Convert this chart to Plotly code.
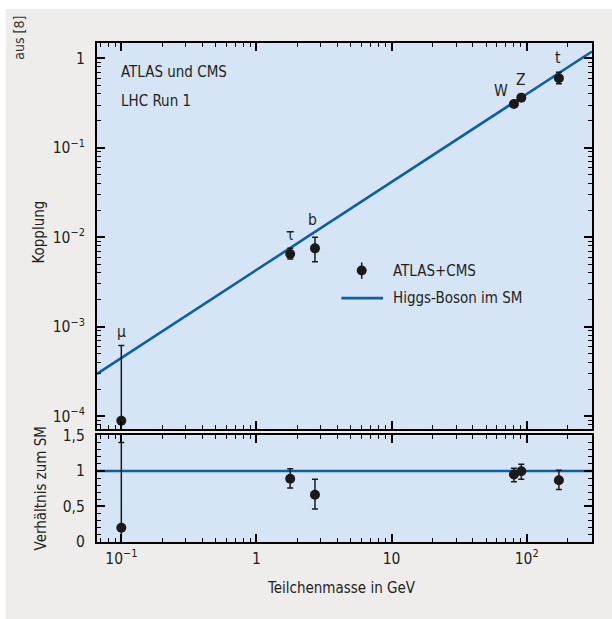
import math
import plotly.graph_objects as go

# ---------------- data ----------------
particles = ["μ", "τ", "b", "W", "Z", "t"]
mass_gev = [0.1, 1.777, 2.71, 80.4, 91.2, 173.0]
coupling = [8.85e-5, 6.5e-3, 7.5e-3, 0.309, 0.363, 0.598]
coupling_err_plus = [5.27e-4, 1.0e-3, 2.5e-3, 0.012, 0.015, 0.10]
coupling_err_minus = [8.0e-5, 0.8e-3, 2.2e-3, 0.012, 0.015, 0.08]
ratio = [0.2, 0.89, 0.665, 0.95, 0.995, 0.87]
ratio_err_plus = [1.2, 0.14, 0.22, 0.09, 0.10, 0.14]
ratio_err_minus = [0.5, 0.13, 0.20, 0.10, 0.11, 0.13]
sm_mass = [0.066, 304.0]
sm_coupling = [2.97e-4, 1.19]
sm_ratio = [1.0, 1.0]
label_dx = [0, 0, -2, -13, 0, -1]
label_dy = [89, 19, 28, 13, 18, 20]
legend_names = ["ATLAS+CMS", "Higgs-Boson im SM"]

y_tickvals = [1e-4, 1e-3, 1e-2, 1e-1, 1]
y_ticktext = ["10<sup>−4</sup>", "10<sup>−3</sup>", "10<sup>−2</sup>", "10<sup>−1</sup>", "1"]
x_tickvals = [0.1, 1, 10, 100]
x_ticktext = ["10<sup>−1</sup>", "1", "10", "10<sup>2</sup>"]
r_tickvals = [0, 0.5, 1, 1.5]
r_ticktext = ["0", "0,5", "1", "1,5"]

# ---------------- style ----------------
FONT = "DejaVu Sans Condensed, Liberation Sans Narrow, sans-serif"
FS = 15
FS_TICK = 15.5
TXT = "#231f20"
BLUE = "#0b5ea8"
DOT = "#1a1a1a"
PLOTBG = "#d5e5f6"
GREY = "#eeedeb"
W, H = 612, 619
L, R, T, B = 97.3, 592.3, 43.0, 542.3

def px_x(p):
    return (p - L) / (R - L)

def px_y(p):
    return (B - p) / (B - T)

fig = go.Figure()

fig.add_trace(go.Scatter(
    x=sm_mass, y=sm_coupling, mode="lines", name=legend_names[1], showlegend=False,
    line=dict(color=BLUE, width=2.6), xaxis="x", yaxis="y"))
fig.add_trace(go.Scatter(
    x=mass_gev, y=coupling, mode="markers", name=legend_names[0], showlegend=False,
    marker=dict(color=DOT, size=10),
    error_y=dict(type="data", array=coupling_err_plus, arrayminus=coupling_err_minus,
                 color=DOT, thickness=1.5, width=3),
    xaxis="x", yaxis="y"))
fig.add_trace(go.Scatter(
    x=sm_mass, y=sm_ratio, mode="lines", showlegend=False,
    line=dict(color=BLUE, width=2.6), xaxis="x2", yaxis="y2"))
fig.add_trace(go.Scatter(
    x=mass_gev, y=ratio, mode="markers", showlegend=False,
    marker=dict(color=DOT, size=10),
    error_y=dict(type="data", array=ratio_err_plus, arrayminus=ratio_err_minus,
                 color=DOT, thickness=1.5, width=3),
    xaxis="x2", yaxis="y2"))

ann_font = dict(family=FONT, size=FS, color=TXT)

# particle labels
for name, m, c, dx, dy in zip(particles, mass_gev, coupling, label_dx, label_dy):
    fig.add_annotation(x=math.log10(m), y=math.log10(c), xref="x", yref="y",
                       text=name, showarrow=False, xshift=dx, yshift=dy,
                       font=dict(family=FONT, size=15.5, color=TXT))

ax_common = dict(showline=True, linewidth=2, linecolor="black", mirror="ticks",
                 ticks="inside", ticklen=8, tickwidth=1.5, tickcolor="black",
                 showgrid=False, zeroline=False,
                 tickfont=dict(family=FONT, size=FS_TICK, color=TXT))
log_minor = dict(ticks="inside", ticklen=4, tickwidth=1, tickcolor="black",
                 showgrid=False, dtick="D1")
xr = [-1.18, 2.483]

fig.update_layout(
    width=W, height=H,
    margin=dict(l=L, r=W - R, t=T, b=H - B, pad=0),
    paper_bgcolor=GREY, plot_bgcolor=PLOTBG,
    font=dict(family=FONT, size=FS, color=TXT),
    showlegend=False,
    xaxis=dict(type="log", range=xr, anchor="y", domain=[0, 1],
               tickvals=x_tickvals, showticklabels=False, minor=log_minor, **ax_common),
    xaxis2=dict(type="log", range=xr, anchor="y2", domain=[0, 1], matches="x",
                tickvals=x_tickvals, ticktext=x_ticktext, minor=log_minor, ticklabelstandoff=1,
                **ax_common),
    yaxis=dict(type="log", range=[-4.142, 0.171], anchor="x", domain=[0.2269, 1],
               tickvals=y_tickvals, ticktext=y_ticktext, minor=log_minor,
               ticklabelstandoff=7, **ax_common),
    yaxis2=dict(range=[0, 1.5], anchor="x2", domain=[0, 0.2135],
                tickvals=r_tickvals, ticktext=r_ticktext,
                minor=dict(ticks="inside", ticklen=4, tickwidth=1, tickcolor="black", dtick=0.1),
                ticklabelstandoff=7, **ax_common),
)

# legend (drawn as key glyphs + text)
fig.add_shape(type="line", xref="paper", yref="paper", x0=px_x(362), x1=px_x(362),
              y0=px_y(262.5), y1=px_y(279), line=dict(color=DOT, width=1.5))
fig.add_shape(type="circle", xref="paper", yref="paper", x0=px_x(357), x1=px_x(367),
              y0=px_y(275.7), y1=px_y(265.7), fillcolor=DOT, line=dict(color=DOT, width=0))
fig.add_shape(type="line", xref="paper", yref="paper", x0=px_x(341.7), x1=px_x(383.3),
              y0=px_y(298.3), y1=px_y(298.3), line=dict(color=BLUE, width=2.6))
fig.add_annotation(xref="paper", yref="paper", x=px_x(391), y=px_y(270.7), text=legend_names[0],
                   showarrow=False, xanchor="left", yanchor="middle",
                   font=dict(family=FONT, size=15, color=TXT))
fig.add_annotation(xref="paper", yref="paper", x=px_x(391), y=px_y(298.3), text=legend_names[1],
                   showarrow=False, xanchor="left", yanchor="middle",
                   font=dict(family=FONT, size=15, color=TXT))

fig.add_annotation(xref="paper", yref="paper", x=px_x(119), y=px_y(72), text="ATLAS und CMS",
                   showarrow=False, xanchor="left", yanchor="middle", font=ann_font)
fig.add_annotation(xref="paper", yref="paper", x=px_x(119), y=px_y(101), text="LHC Run 1",
                   showarrow=False, xanchor="left", yanchor="middle", font=ann_font)
fig.add_annotation(xref="paper", yref="paper", x=px_x(39), y=px_y(232), text="Kopplung",
                   textangle=-90, showarrow=False, xanchor="center", yanchor="middle", font=ann_font)
fig.add_annotation(xref="paper", yref="paper", x=px_x(41), y=px_y(489), text="Verhältnis zum SM",
                   textangle=-90, showarrow=False, xanchor="center", yanchor="middle", font=ann_font)
fig.add_annotation(xref="paper", yref="paper", x=px_x(342), y=px_y(588), text="Teilchenmasse in GeV",
                   showarrow=False, xanchor="center", yanchor="middle", font=ann_font)
fig.add_annotation(xref="paper", yref="paper", x=px_x(19), y=px_y(38), text="aus [8]",
                   textangle=-90, showarrow=False, xanchor="center", yanchor="middle",
                   font=dict(family=FONT, size=14, color="#333333"))

# white page edges outside the grey panel
fig.add_shape(type="rect", xref="paper", yref="paper", x0=px_x(-2), x1=px_x(6), y0=px_y(H + 2), y1=px_y(-2),
              fillcolor="white", line=dict(width=0), layer="below")
fig.add_shape(type="rect", xref="paper", yref="paper", x0=px_x(-2), x1=px_x(W + 2), y0=px_y(9), y1=px_y(-2),
              fillcolor="white", line=dict(width=0), layer="below")

fig.write_html("out.html")
